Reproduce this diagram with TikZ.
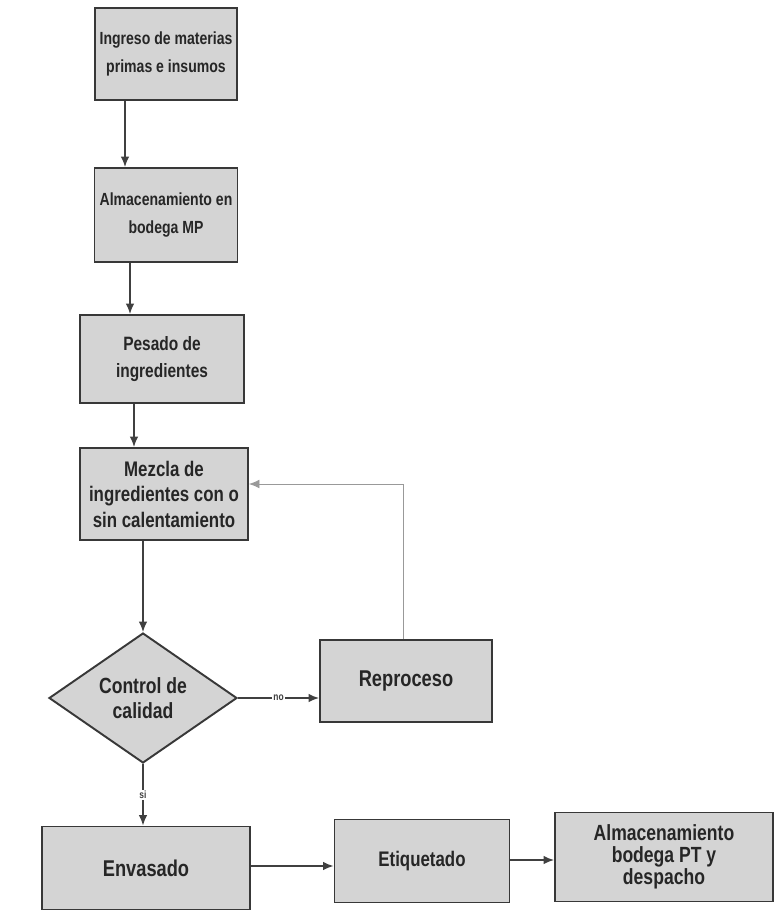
\documentclass[tikz,border=0pt]{standalone}
\usepackage{fontspec}
\setmainfont[FakeStretch=0.8]{Liberation Sans}
\usetikzlibrary{shapes.geometric,arrows.meta}

\begin{document}
\begin{tikzpicture}[x=0.02cm, y=-0.02cm,
	proceso/.style={draw=black!78, fill=black!17, line width=1.1pt, inner sep=0pt,
		align=center, text=black!85, font=\fontsize{10}{15.5}\selectfont\bfseries},
	decision/.style={proceso, diamond},
	flecha/.style={draw=black!75, line width=1pt, -{Latex[length=6pt,width=5pt]}},
	retorno/.style={draw=black!40, line width=.5pt, -{Latex[length=6pt,width=5pt]}},
	etiq/.style={fill=white, inner sep=.5pt, text=black!75, font=\fontsize{6}{6}\selectfont\bfseries}]
	\useasboundingbox (0,0) rectangle (775,914);
	% columna principal
	\node[proceso, minimum width=2.84cm, minimum height=1.84cm] (ingreso) at (166,54)  {Ingreso de materias\\primas e insumos};
	\node[proceso, minimum width=2.86cm, minimum height=1.88cm] (alm)     at (166,215) {Almacenamiento en\\bodega MP};
	\node[proceso, minimum width=3.28cm, minimum height=1.76cm, font=\fontsize{11}{15.5}\selectfont\bfseries] (pesado) at (162,359) {Pesado de\\ingredientes};
	\node[proceso, minimum width=3.36cm, minimum height=1.84cm, font=\fontsize{12}{14.5}\selectfont\bfseries] (mezcla) at (164,494) {Mezcla de\\ingredientes con o\\sin calentamiento};
	\node[decision, minimum width=3.76cm, minimum height=2.6cm, font=\fontsize{12.5}{14.5}\selectfont\bfseries] (control) at (143,698) {Control de\\calidad};
	\node[proceso, minimum width=3.44cm, minimum height=1.64cm, font=\fontsize{13}{13}\selectfont\bfseries] (reproceso) at (406,681) {Reproceso};
	% fila inferior
	\node[proceso, minimum width=4.16cm, minimum height=1.66cm, font=\fontsize{13}{13}\selectfont\bfseries] (envasado)   at (146,868) {Envasado};
	\node[proceso, minimum width=3.5cm,  minimum height=1.66cm, font=\fontsize{12}{12}\selectfont\bfseries] (etiquetado) at (422,861) {Etiquetado};
	\node[proceso, minimum width=4.36cm, minimum height=1.78cm, font=\fontsize{12.5}{12.5}\selectfont\bfseries] (pt) at (664,857) {Almacenamiento\\bodega PT y\\despacho};
	% puntos de paso
	\coordinate (a1) at (125,0);
	\coordinate (a2) at (130,0);
	\coordinate (a3) at (134,0);
	\coordinate (rx) at (403,0);
	\coordinate (ry) at (0,484);
	\coordinate (ey) at (0,866);
	\coordinate (py) at (0,860);
	\draw[flecha] (ingreso.south -| a1) -- (alm.north -| a1);
	\draw[flecha] (alm.south -| a2) -- (pesado.north -| a2);
	\draw[flecha] (pesado.south -| a3) -- (mezcla.north -| a3);
	\draw[flecha] (mezcla.south -| control.north) -- (control.north);
	\draw[flecha] (control.east) -- node[etiq]{no} (reproceso.west |- control.east);
	\draw[flecha] (control.south) -- node[etiq]{si} (envasado.north -| control.south);
	\draw[retorno] (reproceso.north -| rx) |- (mezcla.east |- ry);
	\draw[flecha] (envasado.east |- ey) -- (etiquetado.west |- ey);
	\draw[flecha] (etiquetado.east |- py) -- (pt.west |- py);
\end{tikzpicture}
\end{document}
